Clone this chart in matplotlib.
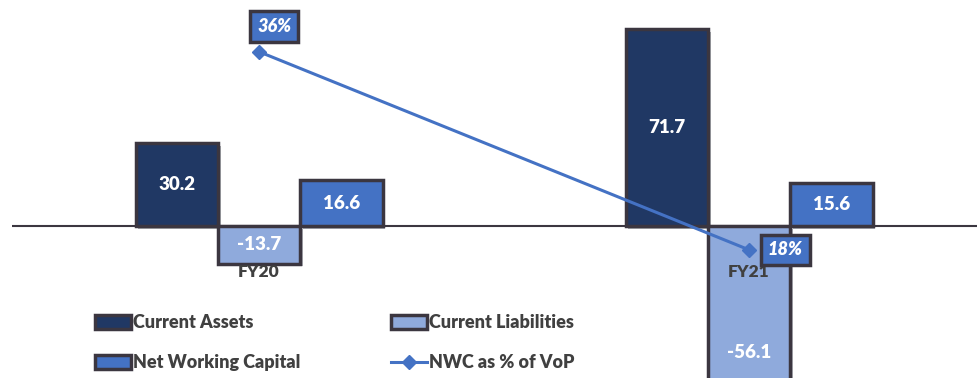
import matplotlib
matplotlib.use("Agg")
import matplotlib.pyplot as plt
import matplotlib.patheffects as pe
from matplotlib.patches import Patch
from matplotlib.lines import Line2D
import numpy as np

categories = ["FY20", "FY21"]
current_assets = [30.2, 71.7]
current_liabilities = [-13.7, -56.1]
net_working_capital = [16.6, 15.6]
nwc_pct = [36, 18]
series_names = ["Current Assets", "Current Liabilities", "Net Working Capital", "NWC as % of VoP"]

C_CA = "#203864"
C_CL = "#8FAADC"
C_NWC = "#4472C4"
EDGE = "#3B3640"
TXT = "#404040"
FONT = "Lato"

fig = plt.figure(figsize=(9.78, 3.78), dpi=100)
ax = fig.add_axes([12/978, 0, 1 - 12/978, 1])
ax.set_xlim(-0.504, 1.467)
ax.set_ylim(-55.3, 82.2)
ax.axis("off")

x = np.arange(len(categories))
w = 0.168
shadow = [pe.SimplePatchShadow(offset=(2, -2), alpha=0.35), pe.Normal()]
groups = [(current_assets, C_CA, -w), (current_liabilities, C_CL, 0), (net_working_capital, C_NWC, w)]
ax.axhline(0, color="#3B3640", lw=1.5, zorder=1)
for vals, col, off in groups:
    bars = ax.bar(x + off, vals, width=w, color=col, edgecolor=EDGE, linewidth=2.5, zorder=2)
    for b in bars:
        b.set_path_effects(shadow)
    for xi, v in zip(x + off, vals):
        if v < -40:
            ax.annotate(f"{v:.1f}", (xi, ax.get_ylim()[0]), xytext=(0, 18), textcoords="offset points",
                        ha="center", va="center", color="white", fontsize=13.5,
                        fontweight="heavy", family=FONT, zorder=5)
        else:
            ax.text(xi, v / 2, f"{v:.1f}", ha="center", va="center", color="white",
                    fontsize=13.5, fontweight="heavy", family=FONT, zorder=5)

for xi, c in zip(x, categories):
    ax.text(xi, -16.9, c, ha="center", va="center", color=TXT, fontsize=12.5,
            fontweight="heavy", family=FONT, zorder=6)

ax2 = ax.twinx()
ax2.set_ylim(6.36, 40.7)
ax2.axis("off")
ax2.plot(x, nwc_pct, color=C_NWC, lw=2.2, marker="D", markersize=7, zorder=3)
offsets = [(11, 18), (26, 0)]
for xi, v, off in zip(x, nwc_pct, offsets):
    ax2.annotate(f"{v}%", (xi, v), xytext=off, textcoords="offset points",
                 ha="center", va="center", color="white", fontsize=13,
                 fontweight="heavy", fontstyle="italic", family=FONT, zorder=7,
                 bbox=dict(boxstyle="square,pad=0.38", fc=C_NWC, ec=EDGE, lw=2.5))

h_ca = Patch(facecolor=C_CA, edgecolor=EDGE, linewidth=2.5)
h_cl = Patch(facecolor=C_CL, edgecolor=EDGE, linewidth=2.5)
h_nwc = Patch(facecolor=C_NWC, edgecolor=EDGE, linewidth=2.5)
h_line = Line2D([0], [0], color=C_NWC, lw=2.2, marker="D", markersize=7)
# column-major ordering so rows read: CA | CL, NWC | line
handles = [h_ca, h_nwc, h_cl, h_line]
labels = [series_names[0], series_names[2], series_names[1], series_names[3]]
leg = fig.legend(handles, labels, loc="upper left", bbox_to_anchor=(95/978, 1 - 314/378),
                 ncol=2, frameon=False, borderpad=0, borderaxespad=0, handlelength=2.0,
                 handleheight=0.8, handletextpad=0.12, columnspacing=5.0, labelspacing=1.3,
                 prop=dict(family=FONT, weight="heavy", size=13))
for t in leg.get_texts():
    t.set_color(TXT)

fig.savefig("out.png", dpi=100)
